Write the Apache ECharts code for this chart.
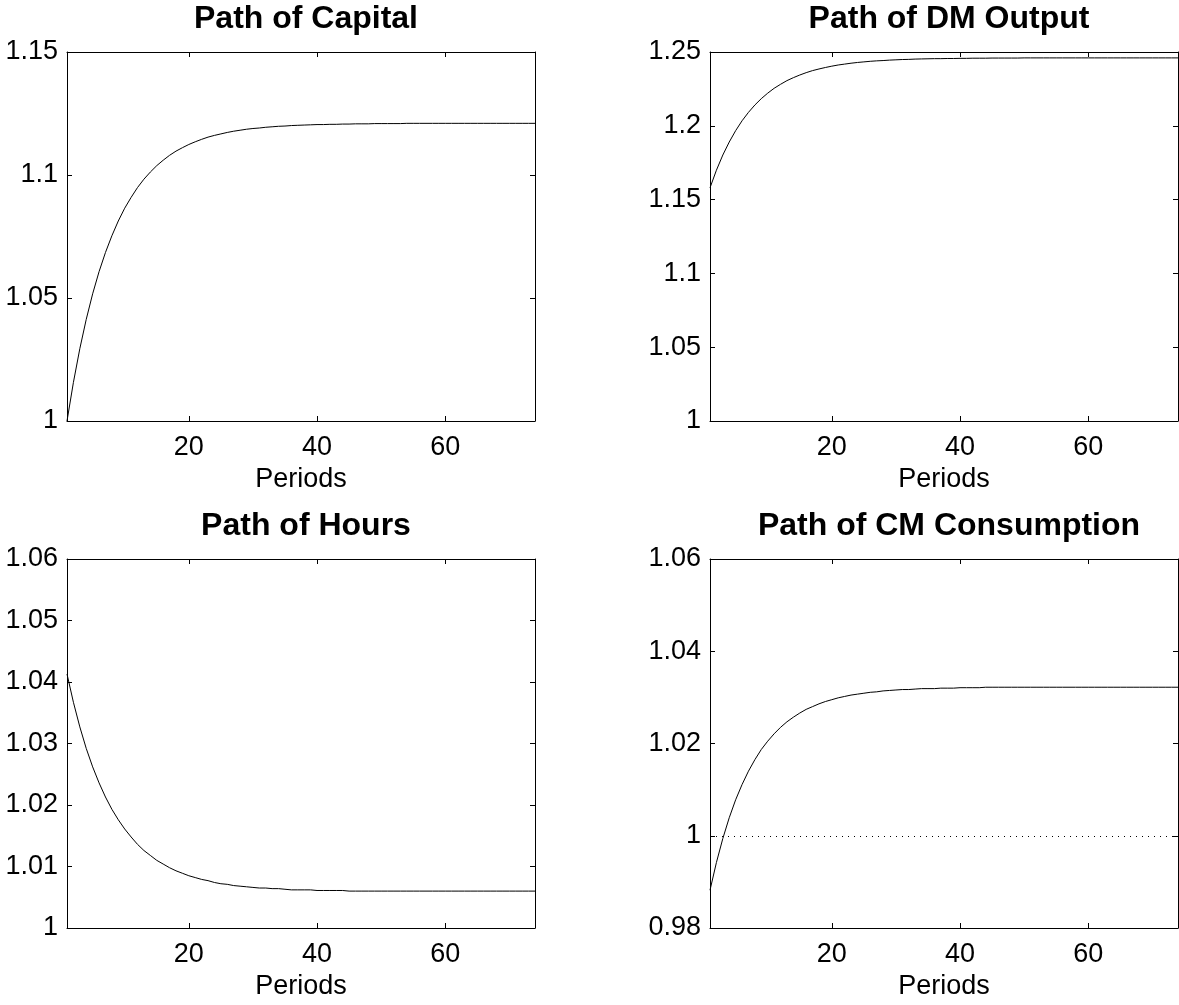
<!DOCTYPE html>
<html>
<head>
<meta charset="utf-8">
<script src="https://cdn.jsdelivr.net/npm/echarts@6/dist/echarts.min.js"></script>
<style>
  html, body { margin: 0; padding: 0; background: #fff; }
  #chart { width: 1179px; height: 1005px; }
</style>
</head>
<body>
<div id="chart"></div>
<script>
// periods on the horizontal axis
const periods = [
  1, 2, 3, 4, 5, 6, 7, 8, 9, 10, 11, 12, 13, 14, 15, 16, 17, 18, 19, 20,
  21, 22, 23, 24, 25, 26, 27, 28, 29, 30, 31, 32, 33, 34, 35, 36, 37, 38, 39, 40,
  41, 42, 43, 44, 45, 46, 47, 48, 49, 50, 51, 52, 53, 54, 55, 56, 57, 58, 59, 60,
  61, 62, 63, 64, 65, 66, 67, 68, 69, 70, 71, 72, 73, 74
]

const capital = [
  1.0000, 1.0157, 1.0294, 1.0413, 1.0517, 1.0607, 1.0685, 1.0753, 1.0813, 1.0865,
  1.0909, 1.0949, 1.0983, 1.1012, 1.1038, 1.1060, 1.1080, 1.1097, 1.1111, 1.1124,
  1.1135, 1.1145, 1.1154, 1.1161, 1.1167, 1.1173, 1.1178, 1.1182, 1.1186, 1.1189,
  1.1191, 1.1194, 1.1196, 1.1198, 1.1199, 1.1201, 1.1202, 1.1203, 1.1204, 1.1205,
  1.1205, 1.1206, 1.1206, 1.1207, 1.1207, 1.1208, 1.1208, 1.1208, 1.1209, 1.1209,
  1.1209, 1.1209, 1.1209, 1.1210, 1.1210, 1.1210, 1.1210, 1.1210, 1.1210, 1.1210,
  1.1210, 1.1210, 1.1210, 1.1210, 1.1210, 1.1210, 1.1210, 1.1210, 1.1210, 1.1210,
  1.1210, 1.1210, 1.1210, 1.1210
]

const dmOutput = [
  1.1580, 1.1699, 1.1802, 1.1890, 1.1967, 1.2034, 1.2091, 1.2141, 1.2184, 1.2221,
  1.2254, 1.2281, 1.2306, 1.2326, 1.2344, 1.2360, 1.2374, 1.2385, 1.2395, 1.2404,
  1.2412, 1.2418, 1.2424, 1.2429, 1.2433, 1.2437, 1.2440, 1.2442, 1.2445, 1.2447,
  1.2449, 1.2450, 1.2452, 1.2453, 1.2454, 1.2455, 1.2455, 1.2456, 1.2456, 1.2457,
  1.2457, 1.2458, 1.2458, 1.2458, 1.2459, 1.2459, 1.2459, 1.2459, 1.2459, 1.2460,
  1.2460, 1.2460, 1.2460, 1.2460, 1.2460, 1.2460, 1.2460, 1.2460, 1.2460, 1.2460,
  1.2460, 1.2460, 1.2460, 1.2460, 1.2460, 1.2460, 1.2460, 1.2460, 1.2460, 1.2460,
  1.2460, 1.2460, 1.2460, 1.2460
]

const hours = [
  1.0413, 1.0367, 1.0327, 1.0292, 1.0262, 1.0236, 1.0213, 1.0193, 1.0176, 1.0161,
  1.0148, 1.0136, 1.0126, 1.0118, 1.0110, 1.0104, 1.0098, 1.0093, 1.0089, 1.0085,
  1.0082, 1.0079, 1.0077, 1.0074, 1.0072, 1.0071, 1.0069, 1.0068, 1.0067, 1.0066,
  1.0065, 1.0065, 1.0064, 1.0064, 1.0063, 1.0062, 1.0062, 1.0062, 1.0062, 1.0061,
  1.0061, 1.0061, 1.0061, 1.0061, 1.0060, 1.0060, 1.0060, 1.0060, 1.0060, 1.0060,
  1.0060, 1.0060, 1.0060, 1.0060, 1.0060, 1.0060, 1.0060, 1.0060, 1.0060, 1.0060,
  1.0060, 1.0060, 1.0060, 1.0060, 1.0060, 1.0060, 1.0060, 1.0060, 1.0060, 1.0060,
  1.0060, 1.0060, 1.0060, 1.0060
]

const cmConsumption = [
  0.9882, 0.9942, 0.9994, 1.0039, 1.0078, 1.0111, 1.0140, 1.0165, 1.0187, 1.0205,
  1.0221, 1.0235, 1.0247, 1.0257, 1.0266, 1.0274, 1.0280, 1.0286, 1.0291, 1.0295,
  1.0299, 1.0302, 1.0305, 1.0307, 1.0309, 1.0311, 1.0312, 1.0314, 1.0315, 1.0316,
  1.0317, 1.0317, 1.0318, 1.0319, 1.0319, 1.0319, 1.0320, 1.0320, 1.0320, 1.0321,
  1.0321, 1.0321, 1.0321, 1.0322, 1.0322, 1.0322, 1.0322, 1.0322, 1.0322, 1.0322,
  1.0322, 1.0322, 1.0322, 1.0322, 1.0322, 1.0322, 1.0322, 1.0322, 1.0322, 1.0322,
  1.0322, 1.0322, 1.0322, 1.0322, 1.0322, 1.0322, 1.0322, 1.0322, 1.0322, 1.0322,
  1.0322, 1.0322, 1.0322, 1.0322
]

// steady state reference (dotted line)
const steadyState = 1

// tick labels
const xTicks = [20, 40, 60]
const capitalTicks = [1, 1.05, 1.1, 1.15]
const dmOutputTicks = [1, 1.05, 1.1, 1.15, 1.2, 1.25]
const hoursTicks = [1, 1.01, 1.02, 1.03, 1.04, 1.05, 1.06]
const cmTicks = [0.98, 1, 1.02, 1.04, 1.06]

const titles = ['Path of Capital', 'Path of DM Output', 'Path of Hours', 'Path of CM Consumption']

const font = 'Liberation Sans'

const panels = [
  { title: titles[0], values: capital, yTicks: capitalTicks, left: 67, top: 52 },
  { title: titles[1], values: dmOutput, yTicks: dmOutputTicks, left: 710, top: 52 },
  { title: titles[2], values: hours, yTicks: hoursTicks, left: 67, top: 559 },
  { title: titles[3], values: cmConsumption, yTicks: cmTicks, left: 710, top: 559 }
]
const plotW = 468
const plotH = 369

const chartDom = document.getElementById('chart')
const myChart = echarts.init(chartDom)

let option = {
  animation: false,
  backgroundColor: '#fff',
  title: [],
  grid: [],
  xAxis: [],
  yAxis: [],
  series: []
}

const frameLine = { show: true, onZero: false, lineStyle: { color: '#000', width: 1 } }

panels.forEach((p, i) => {
  const yMin = p.yTicks[0]
  const yMax = p.yTicks[p.yTicks.length - 1]

  option.title.push({
    text: p.title,
    left: p.left + plotW / 2,
    top: p.top - 54,
    textAlign: 'center',
    textStyle: { fontFamily: font, fontSize: 32, fontWeight: 'bold', color: '#000' }
  })

  option.grid.push({ left: p.left, top: p.top, width: plotW, height: plotH, containLabel: false })

  // bottom axis with labels
  option.xAxis.push({
    type: 'value', gridIndex: i, position: 'bottom', min: 1, max: 74,
    name: 'Periods', nameLocation: 'middle', nameGap: 45,
    nameTextStyle: { fontFamily: font, fontSize: 27, color: '#000' },
    axisLine: frameLine,
    axisTick: { show: true, inside: true, length: 5, customValues: xTicks, lineStyle: { color: '#000' } },
    axisLabel: { show: true, customValues: xTicks, margin: 13, fontFamily: font, fontSize: 27, color: '#000' },
    splitLine: { show: false }
  })
  // top mirror axis
  option.xAxis.push({
    type: 'value', gridIndex: i, position: 'top', min: 1, max: 74,
    axisLine: frameLine,
    axisTick: { show: true, inside: true, length: 5, customValues: xTicks, lineStyle: { color: '#000' } },
    axisLabel: { show: false },
    splitLine: { show: false }
  })
  // left axis with labels
  option.yAxis.push({
    type: 'value', gridIndex: i, position: 'left', min: yMin, max: yMax,
    axisLine: frameLine,
    axisTick: { show: true, inside: true, length: 5, customValues: p.yTicks, lineStyle: { color: '#000' } },
    axisLabel: { show: true, customValues: p.yTicks, margin: 9, fontFamily: font, fontSize: 27, color: '#000' },
    splitLine: { show: false }
  })
  // right mirror axis
  option.yAxis.push({
    type: 'value', gridIndex: i, position: 'right', min: yMin, max: yMax,
    axisLine: frameLine,
    axisTick: { show: true, inside: true, length: 5, customValues: p.yTicks, lineStyle: { color: '#000' } },
    axisLabel: { show: false },
    splitLine: { show: false }
  })

  option.series.push({
    type: 'line',
    xAxisIndex: 2 * i,
    yAxisIndex: 2 * i,
    data: periods.map((t, k) => [t, p.values[k]]),
    showSymbol: false,
    symbol: 'none',
    lineStyle: { color: '#000', width: 1 },
    silent: true,
    markLine: {
      silent: true,
      symbol: ['none', 'none'],
      label: { show: false },
      lineStyle: { color: '#000', width: 1, type: [1, 5] },
      data: [{ yAxis: steadyState }]
    }
  })
})

option && myChart.setOption(option)
</script>
</body>
</html>
